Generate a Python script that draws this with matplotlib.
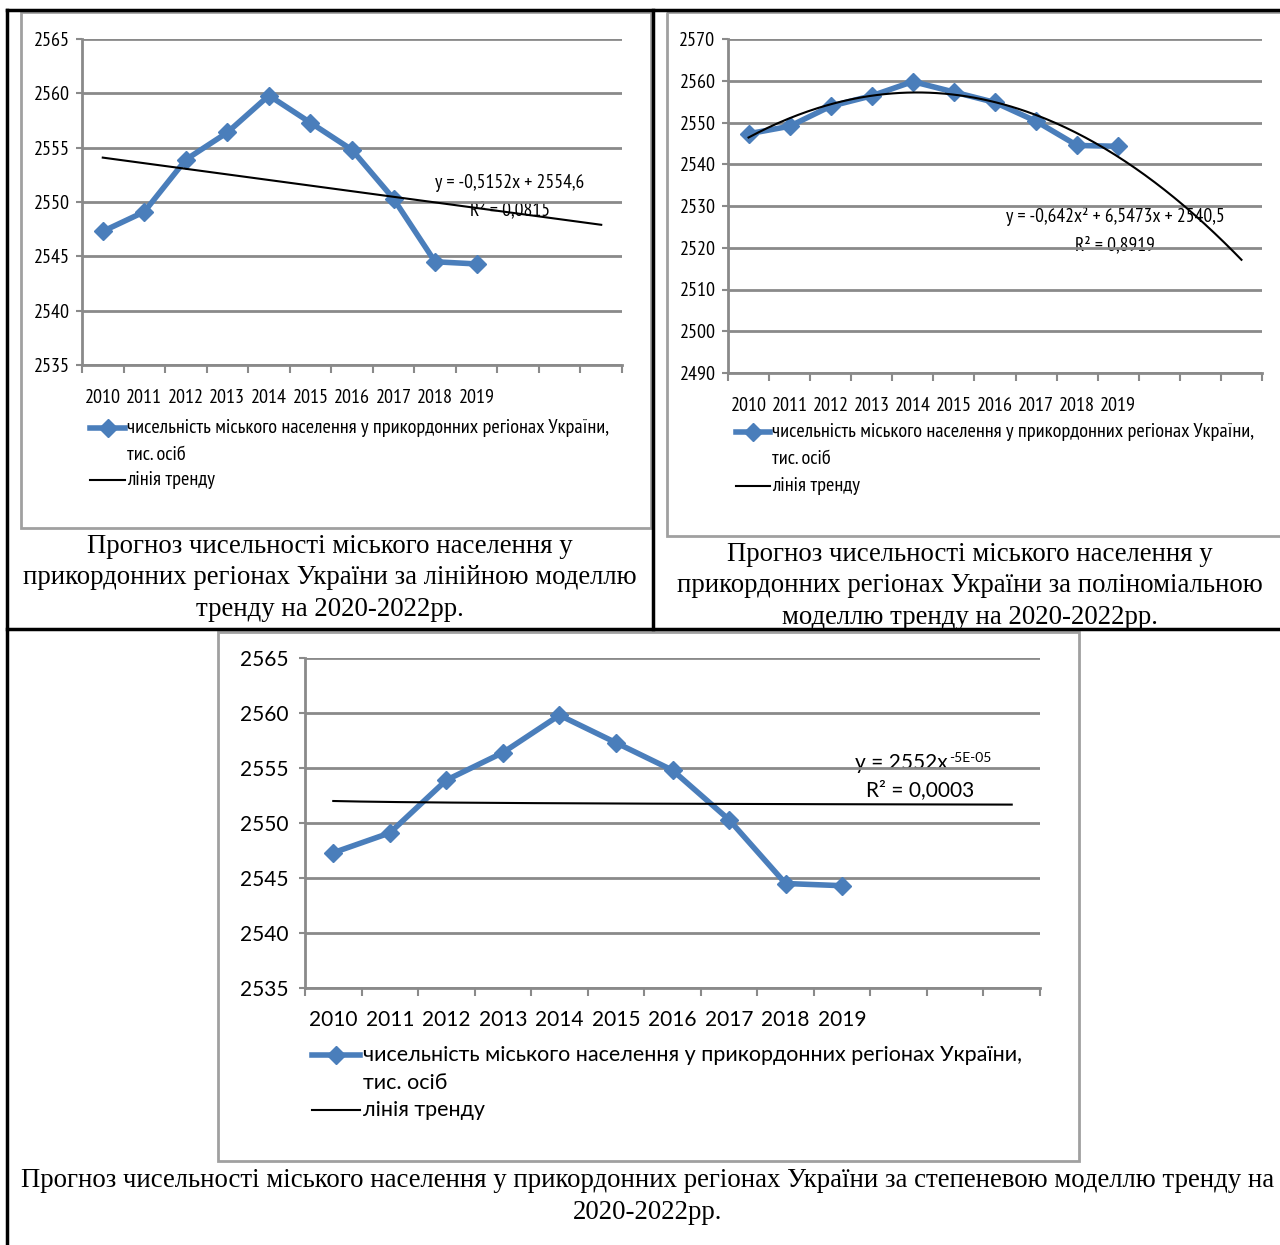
import numpy as np
import matplotlib
matplotlib.use("Agg")
import matplotlib.pyplot as plt
from matplotlib.lines import Line2D
from matplotlib.patches import Rectangle

W, H = 1280, 1245

# ----------------------------
# Data
# ----------------------------
years = ["2010", "2011", "2012", "2013", "2014", "2015", "2016", "2017", "2018", "2019"]
urban_pop = [2547.3, 2549.1, 2553.9, 2556.4, 2559.8, 2557.3, 2554.8, 2550.3, 2544.5, 2544.3]
n_periods = 13  # 10 observed years + 3 forecast periods (2020-2022)

lin_coef = (-0.5152, 2554.6)
poly_coef = (-0.642, 6.5473, 2540.5)
pow_coef = (2552.0, -5e-05)

series_label = "чисельність міського населення у прикордонних регіонах України,"
series_label2 = "тис. осіб"
trend_label = "лінія тренду"

captions = [
    "Прогноз чисельності міського населення у\nприкордонних регіонах України за лінійною моделлю\nтренду на 2020-2022рр.",
    "Прогноз чисельності міського населення у\nприкордонних регіонах України за поліноміальною\nмоделлю тренду на 2020-2022рр.",
    "Прогноз чисельності міського населення у прикордонних регіонах України за степеневою моделлю тренду на\n2020-2022рр.",
]

BLUE = "#4a7ebb"
GRID = "#8a8a8a"
FRAME = "#a0a0a0"
NARROW = ["PT Sans Narrow", "DejaVu Sans"]
WIDE = ["Lato", "DejaVu Sans"]
SERIF = ["Liberation Serif", "DejaVu Serif"]

fig = plt.figure(figsize=(W / 100, H / 100), dpi=100)

# full-figure overlay in pixel coordinates for table lines, frames, legends, captions
bg = fig.add_axes([0, 0, 1, 1])
bg.set_xlim(0, W)
bg.set_ylim(H, 0)
bg.axis("off")


def px_axes(x0, y0, x1, y1):
    return fig.add_axes([x0 / W, 1 - y1 / H, (x1 - x0) / W, (y1 - y0) / H])


def draw_chart(box, ylim, ystep, trend_y, fam, fs, ypad, xpad):
    x0, y0, x1, y1 = box
    ax = px_axes(x0, y0, x1, y1)
    ax.set_facecolor("none")
    x = np.arange(1, len(urban_pop) + 1)
    xt = np.linspace(1, n_periods, 200)

    ax.plot(x, urban_pop, color=BLUE, lw=4, marker="D", ms=9, mec=BLUE, mfc=BLUE, zorder=4)
    ax.plot(xt, trend_y(xt), color="black", lw=1.5, zorder=5)

    ax.set_xlim(0.5, n_periods + 0.5)
    ax.set_ylim(*ylim)
    yt = np.arange(ylim[0], ylim[1] + 0.1, ystep)
    ax.set_yticks(yt)
    ax.set_yticklabels([f"{v:.0f}" for v in yt], fontfamily=fam, fontsize=fs)
    ax.yaxis.grid(True, color=GRID, lw=2)
    ax.set_axisbelow(True)

    ax.set_xticks(np.arange(0.5, n_periods + 1, 1))
    ax.set_xticklabels([])
    ax.set_xticks(x, minor=True)
    ax.set_xticklabels(years, minor=True, fontfamily=fam, fontsize=fs)
    ax.tick_params(axis="x", which="major", length=6, width=1.5, color=GRID, direction="out")
    ax.tick_params(axis="x", which="minor", length=0, pad=xpad)
    ax.tick_params(axis="y", length=4, width=1.5, color=GRID, pad=ypad)

    for s in ("top", "right"):
        ax.spines[s].set_visible(False)
    for s in ("left", "bottom"):
        ax.spines[s].set_color(GRID)
        ax.spines[s].set_linewidth(2)
    return ax


def draw_legend(lx0, lx1, tx, ys, fam, fs):
    bg.add_line(Line2D([lx0, lx1], [ys[0], ys[0]], color=BLUE, lw=4))
    bg.plot([(lx0 + lx1) / 2], [ys[0]], marker="D", ms=9, color=BLUE)
    bg.text(tx, ys[0], series_label, fontfamily=fam, fontsize=fs, va="center", ha="left")
    bg.text(tx, ys[1], series_label2, fontfamily=fam, fontsize=fs, va="center", ha="left")
    bg.add_line(Line2D([lx0, lx1], [ys[2], ys[2]], color="black", lw=1.5))
    bg.text(tx, ys[2], trend_label, fontfamily=fam, fontsize=fs, va="center", ha="left")


# table borders
for xs, ys in [([7, 1280], [10, 10]), ([7, 7], [10, 1245]), ([653, 653], [10, 629]),
               ([7, 1280], [629, 629])]:
    bg.add_line(Line2D(xs, ys, color="black", lw=2.5))

# chart frames
for (fx0, fy0, fx1, fy1) in [(21, 12, 651, 528), (667, 12, 1282, 536), (218, 632, 1079, 1161)]:
    bg.add_patch(Rectangle((fx0, fy0), fx1 - fx0, fy1 - fy0, fill=False, ec=FRAME, lw=2))

# linear trend
draw_chart((82, 39, 622, 365), (2535, 2565), 5,
           lambda t: lin_coef[0] * t + lin_coef[1], NARROW, 14.5, 5, 17)
bg.text(510, 183, "y = -0,5152x + 2554,6", fontfamily=NARROW, fontsize=14, ha="center", va="center")
bg.text(510, 210, "R² = 0,0815", fontfamily=NARROW, fontsize=14, ha="center", va="center")
draw_legend(90, 125, 127, (428, 455, 480), NARROW, 14.7)

# polynomial trend
draw_chart((728, 39, 1262, 373), (2490, 2570), 10,
           lambda t: poly_coef[0] * t ** 2 + poly_coef[1] * t + poly_coef[2], NARROW, 14.5, 5, 17)
bg.text(1115, 217, "y = -0,642x² + 6,5473x + 2540,5", fontfamily=NARROW, fontsize=14, ha="center", va="center")
bg.text(1115, 245, "R² = 0,8919", fontfamily=NARROW, fontsize=14, ha="center", va="center")
draw_legend(736, 770, 772, (432, 459, 486), NARROW, 14.7)

# power trend
draw_chart((305, 658, 1040, 988), (2535, 2565), 5,
           lambda t: pow_coef[0] * t ** pow_coef[1], WIDE, 15, 8, 16)
eq = bg.text(855, 763, "y = 2552x", fontfamily=WIDE, fontsize=15, ha="left", va="center")
bg.annotate("-5E-05", xy=(1.0, 1.0), xycoords=eq, xytext=(1, 1), textcoords="offset points",
            fontfamily=WIDE, fontsize=10, ha="left", va="top")
bg.text(920, 790, "R² = 0,0003", fontfamily=WIDE, fontsize=15, ha="center", va="center")
draw_legend(312, 360, 363, (1055, 1083, 1110), WIDE, 15.5)

# captions
cap_kw = dict(fontfamily=SERIF, fontsize=19.3, ha="center", va="center", linespacing=1.34)
bg.text(330, 578, captions[0], **cap_kw)
bg.text(970, 586, captions[1], **cap_kw)
bg.text(648, 1196.5, captions[2], **cap_kw)

fig.savefig("out.png", dpi=100)
